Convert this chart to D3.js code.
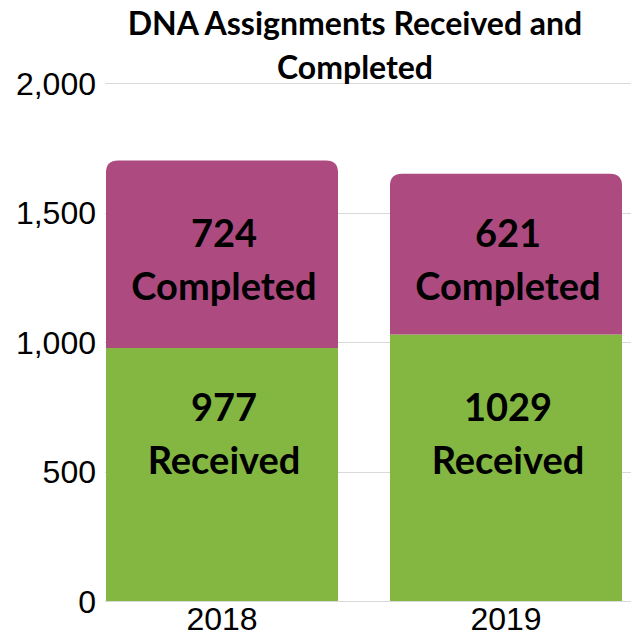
<!DOCTYPE html>
<html>
<head>
<meta charset="utf-8">
<script src="https://cdn.jsdelivr.net/npm/d3@7"></script>
<style>
  body { margin: 0; background: #fff; }
  svg { display: block; }
</style>
</head>
<body>
<div id="chart"></div>
<script>
let years = ["2018", "2019"];
let received = [977, 1029];
let completed = [724, 621];
let yTicks = [0, 500, 1000, 1500, 2000];
let titleLines = ["DNA Assignments Received and", "Completed"];

let width = 631, height = 637;
let GREEN = "#83b742", PURPLE = "#ad4b81";

let svg = d3.select("#chart").append("svg")
    .attr("width", width)
    .attr("height", height);

// scales
let x = d3.scaleBand()
    .domain(years)
    .range([106, 622])
    .paddingInner(0.183)
    .paddingOuter(0);

let y = d3.scaleLinear()
    .domain([0, 2000])
    .range([601, 83]);

// gridlines
svg.append("g")
    .selectAll("line")
    .data(yTicks)
    .enter().append("line")
    .attr("x1", 105)
    .attr("x2", width)
    .attr("y1", d => Math.round(y(d)) + 0.5)
    .attr("y2", d => Math.round(y(d)) + 0.5)
    .attr("stroke", "#d9d9d9")
    .attr("stroke-width", 1);

// y axis labels
svg.append("g")
    .selectAll("text")
    .data(yTicks)
    .enter().append("text")
    .attr("x", 96)
    .attr("y", d => y(d))
    .attr("dy", "0.36em")
    .attr("text-anchor", "end")
    .attr("font-family", "Liberation Sans, Arial, sans-serif")
    .attr("font-size", 32)
    .attr("fill", "#000")
    .text(d => d3.format(",")(d));

// bars
let data = years.map((yr, i) => ({ year: yr, received: received[i], completed: completed[i] }));
let r = 12;

function topRounded(x0, y0, w, h, rad) {
    return "M" + x0 + "," + (y0 + h) +
        "V" + (y0 + rad) +
        "Q" + x0 + "," + y0 + " " + (x0 + rad) + "," + y0 +
        "H" + (x0 + w - rad) +
        "Q" + (x0 + w) + "," + y0 + " " + (x0 + w) + "," + (y0 + rad) +
        "V" + (y0 + h) + "Z";
}

let bars = svg.append("g").selectAll("g")
    .data(data)
    .enter().append("g");

bars.append("rect")
    .attr("x", d => x(d.year))
    .attr("y", d => y(d.received))
    .attr("width", x.bandwidth())
    .attr("height", d => y(0) - y(d.received))
    .attr("fill", GREEN);

bars.append("path")
    .attr("d", d => topRounded(x(d.year), y(d.received + d.completed), x.bandwidth(),
        y(d.received) - y(d.received + d.completed), r))
    .attr("fill", PURPLE);

// bar labels
let labelFont = "Lato, sans-serif";
function addLabel(sel, val, word, yv) {
    let t = sel.append("text")
        .attr("text-anchor", "middle")
        .attr("font-family", labelFont)
        .attr("font-weight", "bold")
        .attr("font-size", 38)
        .attr("fill", "#000");
    t.append("tspan")
        .attr("x", d => x(d.year) + x.bandwidth() / 2 + 2)
        .attr("y", y(yv) - 27)
        .attr("dy", "0.35em")
        .text(val);
    t.append("tspan")
        .attr("x", d => x(d.year) + x.bandwidth() / 2 + 2)
        .attr("y", y(yv) + 26)
        .attr("dy", "0.35em")
        .text(word);
}
addLabel(bars, d => d.completed, "Completed", 1315);
addLabel(bars, d => d.received, "Received", 643);

// x axis labels
svg.append("g")
    .selectAll("text")
    .data(years)
    .enter().append("text")
    .attr("x", d => x(d) + x.bandwidth() / 2)
    .attr("y", 630)
    .attr("text-anchor", "middle")
    .attr("font-family", "Liberation Sans, Arial, sans-serif")
    .attr("font-size", 32)
    .attr("fill", "#000")
    .text(d => d);

// title
svg.append("g")
    .selectAll("text")
    .data(titleLines)
    .enter().append("text")
    .attr("x", 355)
    .attr("y", (d, i) => 35 + i * 44)
    .attr("text-anchor", "middle")
    .attr("font-family", "Lato, sans-serif")
    .attr("font-weight", "bold")
    .attr("font-size", 32)
    .attr("fill", "#000")
    .text(d => d);
</script>
</body>
</html>
